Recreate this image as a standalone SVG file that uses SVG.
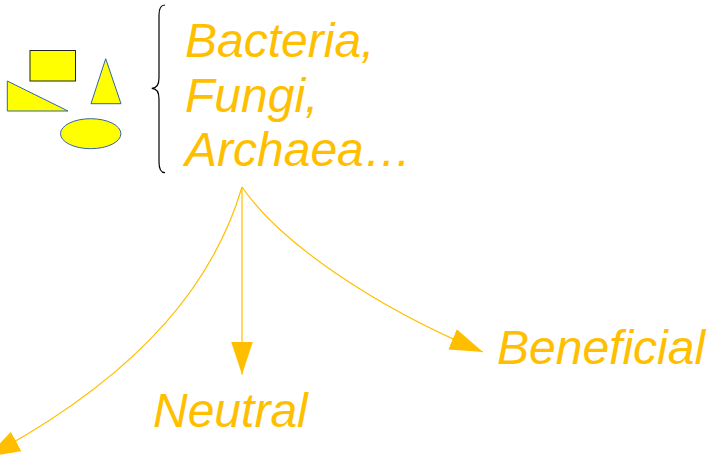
<svg xmlns="http://www.w3.org/2000/svg" width="711" height="462" viewBox="0 0 711 462">
<style>
.lbl{font-family:"Liberation Sans",Arial,sans-serif;font-style:italic;font-size:48px;fill:#FFBF00}
.shp{fill:#FFFF00;stroke:#3465A4;stroke-width:1}
.con{fill:none;stroke:#FFBF00;stroke-width:1.2}
</style>
<defs>
<marker id="ah" markerUnits="userSpaceOnUse" markerWidth="34" markerHeight="24" refX="33" refY="11" orient="auto" viewBox="0 0 34 24">
<polygon points="0,0 33,11 0,22" fill="#FFBF00"/>
</marker>
</defs>
<rect width="711" height="462" fill="#FFFFFF"/>
<g id="shapes">
<rect x="30" y="50.5" width="45.5" height="30.5" fill="#FFFF00" stroke="#222222" stroke-width="1"/>
<polygon class="shp" points="7.3,81 7.3,111 68,111"/>
<polygon class="shp" points="105.7,58.7 121,103.7 91,103.7"/>
<ellipse class="shp" cx="90.7" cy="133.7" rx="30.2" ry="15"/>
</g>
<g id="brace">
<path d="M165,5 C161,5 159,9 159,15 L159,78 C159,85 156,88.3 151.7,88.3 C156,88.3 159,92 159,99 L159,162 C159,168 161,172.7 165,172.7" fill="none" stroke="#000000" stroke-width="1.2"/>
</g>
<g id="organisms">
<text class="lbl" x="185" y="57">Bacteria,</text>
<text class="lbl" x="185" y="111.7">Fungi,</text>
<text class="lbl" x="185" y="166">Archaea…</text>
</g>
<g id="connectors">
<path class="con" d="M242,187 L242,374.5" marker-end="url(#ah)"/>
<path class="con" d="M242,187 C216,275 150,370 -13,457" marker-end="url(#ah)"/>
<path class="con" d="M242,187 C278,240 370,305 483,352" marker-end="url(#ah)"/>
</g>
<g id="neutral">
<text class="lbl" x="153" y="427">Neutral</text>
</g>
<g id="beneficial">
<text class="lbl" x="497" y="363.5">Beneficial</text>
</g>
</svg>
